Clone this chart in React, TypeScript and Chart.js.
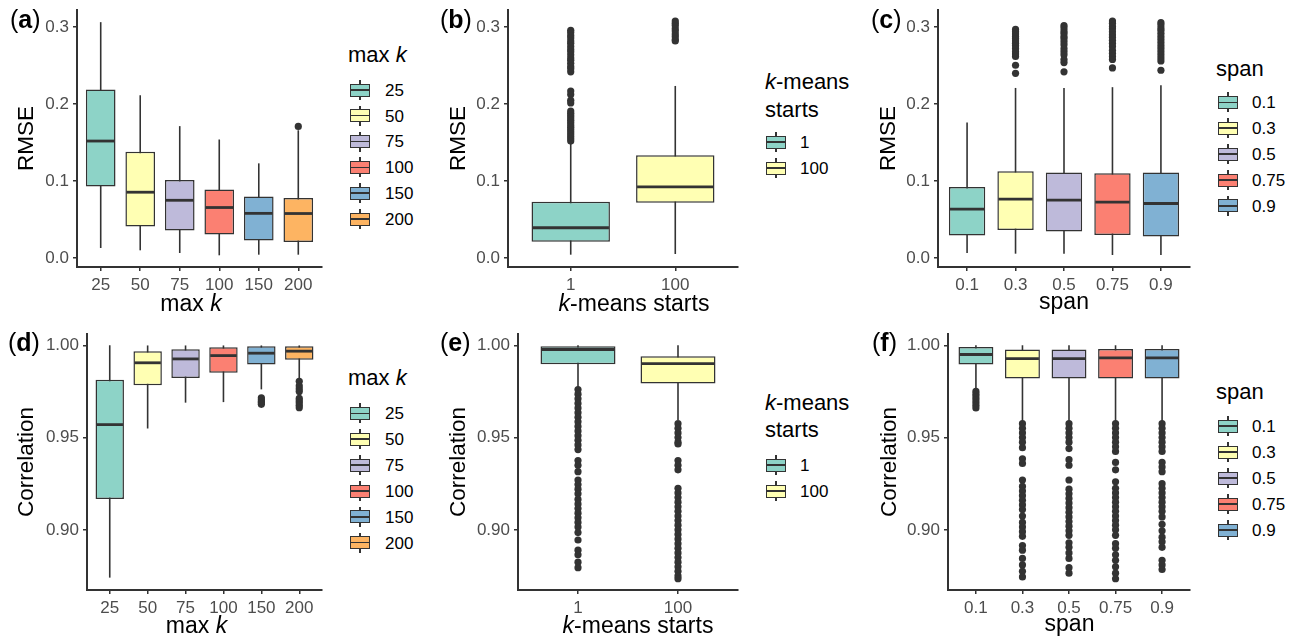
import React, { useEffect, useRef } from 'react';
import { Chart, registerables } from 'chart.js';

Chart.register(...registerables);

const FONT = '"Liberation Sans", Arial, Helvetica, sans-serif';
const INK = '#333333';
const TICK_GREY = '#4D4D4D';
const SET3 = ['#8DD3C7', '#FFFFB3', '#BEBADA', '#FB8072', '#80B1D3', '#FDB462'];

// ---------- categories ----------
const MAXK = ['25', '50', '75', '100', '150', '200'];
const STARTS = ['1', '100'];
const SPAN = ['0.1', '0.3', '0.5', '0.75', '0.9'];

// ---------- y ticks ----------
const RMSE_TICKS = [0, 0.1, 0.2, 0.3];
const RMSE_TICK_LABELS = ['0.0', '0.1', '0.2', '0.3'];
const COR_TICKS = [0.9, 0.95, 1.0];
const COR_TICK_LABELS = ['0.90', '0.95', '1.00'];

// ---------- (a) RMSE by max k ----------
const A_LOW = [0.013, 0.010, 0.0065, 0.0035, 0.0043, 0.0043];
const A_Q1 = [0.0928, 0.041, 0.0358, 0.0306, 0.0229, 0.0207];
const A_MED = [0.152, 0.0855, 0.075, 0.0656, 0.058, 0.0578];
const A_Q3 = [0.219, 0.138, 0.1014, 0.089, 0.080, 0.078];
const A_HIGH = [0.3065, 0.2115, 0.1714, 0.154, 0.123, 0.166];
const A_OUT = [[], [], [], [], [], [0.171]];

// ---------- (b) RMSE by k-means starts ----------
const B_LOW = [0.0043, 0.0052];
const B_Q1 = [0.0211, 0.0717];
const B_MED = [0.0393, 0.0924];
const B_Q3 = [0.073, 0.1334];
const B_HIGH = [0.149, 0.2236];
const B_OUT = [
  [0.296, 0.293, 0.289, 0.286, 0.282, 0.279, 0.275, 0.271, 0.268, 0.264, 0.260, 0.257, 0.253, 0.249, 0.246, 0.242,
    0.217, 0.2125, 0.205, 0.2015, 0.191, 0.188, 0.185, 0.182, 0.179, 0.176, 0.173, 0.170, 0.167, 0.164, 0.161, 0.158, 0.155, 0.152],
  [0.308, 0.305, 0.302, 0.298, 0.295, 0.291, 0.288, 0.284, 0.282],
];

// ---------- (c) RMSE by span ----------
const C_LOW = [0.0065, 0.0056, 0.0056, 0.0039, 0.0039];
const C_Q1 = [0.0294, 0.0363, 0.0345, 0.0298, 0.028];
const C_MED = [0.0635, 0.0764, 0.0751, 0.0725, 0.0708];
const C_Q3 = [0.0924, 0.1127, 0.111, 0.110, 0.111];
const C_HIGH = [0.176, 0.221, 0.221, 0.222, 0.2245];
const C_OUT = [
  [],
  [0.297, 0.294, 0.291, 0.288, 0.285, 0.282, 0.279, 0.276, 0.272, 0.268, 0.265, 0.262, 0.2505, 0.240],
  [0.302, 0.299, 0.295, 0.292, 0.288, 0.285, 0.281, 0.277, 0.272, 0.268, 0.264, 0.258, 0.254, 0.242],
  [0.308, 0.305, 0.301, 0.298, 0.294, 0.290, 0.287, 0.283, 0.279, 0.275, 0.270, 0.266, 0.262, 0.258, 0.247],
  [0.306, 0.303, 0.299, 0.296, 0.292, 0.288, 0.284, 0.280, 0.276, 0.272, 0.268, 0.264, 0.260, 0.256, 0.244],
];

// ---------- (d) Correlation by max k ----------
const D_LOW = [0.8741, 0.9549, 0.9689, 0.9692, 0.9761, 0.982];
const D_Q1 = [0.9167, 0.9784, 0.9822, 0.9851, 0.9896, 0.9921];
const D_MED = [0.957, 0.9905, 0.9926, 0.9944, 0.9957, 0.9968];
const D_Q3 = [0.9813, 0.9968, 0.9978, 0.9989, 0.9995, 0.9995];
const D_HIGH = [1.0, 0.9999, 0.9999, 0.9999, 0.9999, 0.9999];
const D_OUT = [[], [], [], [],
  [0.9715, 0.9705, 0.9695, 0.9688, 0.968],
  [0.9805, 0.978, 0.9765, 0.975, 0.9712, 0.970, 0.9688, 0.9675, 0.9662]];

// ---------- (e) Correlation by k-means starts ----------
const E_LOW = [0.977, 0.9595];
const E_Q1 = [0.9897, 0.9793];
const E_MED = [0.9977, 0.990];
const E_Q3 = [0.9995, 0.9941];
const E_HIGH = [1.0, 1.0];
const E_OUT = [
  [0.976, 0.9735, 0.971, 0.9685, 0.966, 0.9635, 0.961, 0.9585, 0.956, 0.9535, 0.951, 0.9485, 0.946, 0.9435,
    0.9375, 0.935, 0.9315, 0.927, 0.9245, 0.922, 0.9195, 0.9165, 0.914, 0.9115, 0.909, 0.9065, 0.904, 0.9015,
    0.8985, 0.8945, 0.889, 0.8865, 0.8825, 0.8795],
  [0.9575, 0.955, 0.9525, 0.950, 0.9475, 0.9465, 0.9375, 0.935, 0.9325, 0.9225, 0.920, 0.9175, 0.915, 0.9125,
    0.910, 0.9075, 0.905, 0.9025, 0.900, 0.8975, 0.895, 0.8925, 0.890, 0.8875, 0.885, 0.8825, 0.880, 0.8775,
    0.875, 0.8735],
];

// ---------- (f) Correlation by span ----------
const F_LOW = [0.9761, 0.959, 0.959, 0.959, 0.959];
const F_Q1 = [0.9896, 0.982, 0.982, 0.982, 0.982];
const F_MED = [0.995, 0.9928, 0.9928, 0.9932, 0.9932];
const F_Q3 = [0.9991, 0.9977, 0.9977, 0.998, 0.998];
const F_HIGH = [1.0, 1.0, 1.0, 1.0, 1.0];
const F_OUT = [
  [0.975, 0.9735, 0.972, 0.9705, 0.969, 0.9675, 0.966],
  [0.9575, 0.955, 0.9525, 0.950, 0.9475, 0.9445, 0.9385, 0.936, 0.927, 0.9235, 0.921, 0.9185, 0.916, 0.9135,
    0.911, 0.9075, 0.904, 0.9015, 0.899, 0.8965, 0.8915, 0.889, 0.8845, 0.881, 0.8775, 0.8745],
  [0.9575, 0.955, 0.9525, 0.950, 0.9475, 0.944, 0.938, 0.935, 0.927, 0.922, 0.9195, 0.917, 0.9145, 0.912,
    0.9095, 0.907, 0.9045, 0.902, 0.8995, 0.897, 0.893, 0.8905, 0.8875, 0.8845, 0.8795, 0.8765],
  [0.9575, 0.955, 0.9525, 0.950, 0.9475, 0.945, 0.9425, 0.9365, 0.9325, 0.926, 0.9225, 0.920, 0.9175, 0.915,
    0.9125, 0.910, 0.9075, 0.905, 0.9025, 0.900, 0.897, 0.8925, 0.890, 0.8865, 0.8835, 0.880, 0.8765, 0.8735],
  [0.9575, 0.955, 0.9525, 0.950, 0.9475, 0.945, 0.9425, 0.9365, 0.934, 0.9315, 0.925, 0.9225, 0.920, 0.9175,
    0.915, 0.9125, 0.910, 0.907, 0.903, 0.8995, 0.896, 0.8935, 0.8905, 0.8835, 0.881, 0.8785],
];

type BoxSet = {
  cats: string[]; low: number[]; q1: number[]; med: number[]; q3: number[]; high: number[]; out: number[][];
};

type PanelProps = {
  box: BoxSet; left: number; top: number; width: number; height: number; padTop: number;
  yW: number; titlePad: number; yTitle: string; yMin: number; yMax: number;
  ticks: number[]; tickLabels: string[];
};

function BoxPlot(p: PanelProps) {
  const ref = useRef<HTMLCanvasElement>(null);
  useEffect(() => {
    const { box } = p;
    const n = box.cats.length;
    const whiskers = box.cats.map((_, i) => ({ x: i, y: [box.low[i], box.high[i]] }));
    const boxes = box.cats.map((_, i) => ({ x: i, y: [box.q1[i], box.q3[i]] }));
    const outliers = box.out.flatMap((vals, i) => vals.map((v) => ({ x: i, y: v })));

    const medianPlugin = {
      id: 'medians',
      afterDatasetsDraw(chart: any) {
        const meta = chart.getDatasetMeta(1);
        const ys = chart.scales.y;
        const ctx = chart.ctx;
        ctx.save();
        ctx.strokeStyle = INK;
        ctx.lineWidth = 2.8;
        meta.data.forEach((el: any, i: number) => {
          const { x, width } = el.getProps(['x', 'width'], true);
          const py = ys.getPixelForValue(box.med[i]);
          ctx.beginPath();
          ctx.moveTo(x - width / 2 + 1, py);
          ctx.lineTo(x + width / 2 - 1, py);
          ctx.stroke();
        });
        ctx.restore();
      },
    };

    const tickFont = { family: FONT, size: 17 };
    const chart = new Chart(ref.current as HTMLCanvasElement, {
      type: 'bar',
      data: {
        datasets: [
          {
            type: 'bar', data: whiskers as any, backgroundColor: INK, borderWidth: 0,
            barThickness: 1.6, grouped: false, order: 3, inflateAmount: 0,
          } as any,
          {
            type: 'bar', data: boxes as any, backgroundColor: SET3.slice(0, n), borderColor: INK,
            borderWidth: 1.5, borderSkipped: false, grouped: false, categoryPercentage: 1,
            barPercentage: 0.75, order: 2, inflateAmount: 0,
          } as any,
          {
            type: 'scatter', data: outliers as any, pointRadius: 3.6, pointBackgroundColor: INK,
            pointBorderWidth: 0, backgroundColor: INK, borderWidth: 0, order: 1,
          } as any,
        ],
      },
      options: {
        animation: false,
        responsive: false,
        maintainAspectRatio: false,
        events: [],
        layout: { padding: { top: p.padTop, right: 8, left: 0, bottom: 0 } },
        plugins: { legend: { display: false }, tooltip: { enabled: false } },
        scales: {
          x: {
            type: 'linear',
            min: -0.6,
            max: n - 1 + 0.6,
            offset: false,
            bounds: 'data',
            afterBuildTicks: (s: any) => { s.ticks = box.cats.map((_, i) => ({ value: i })); },
            afterFit: (s: any) => { s.height = 30; s.paddingLeft = 0; s.paddingRight = 0; },
            ticks: {
              callback: (_v: any, i: number) => box.cats[i],
              font: tickFont, color: TICK_GREY, padding: 4, autoSkip: false, maxRotation: 0,
            },
            grid: { display: true, offset: false, drawOnChartArea: false, drawTicks: true, tickLength: 4, color: INK, lineWidth: 1.5 },
            border: { display: true, color: INK, width: 2 },
          } as any,
          y: {
            type: 'linear',
            min: p.yMin,
            max: p.yMax,
            beginAtZero: false,
            bounds: 'data',
            afterBuildTicks: (s: any) => { s.ticks = p.ticks.map((v) => ({ value: v })); },
            afterFit: (s: any) => { s.width = p.yW; s.paddingTop = 0; s.paddingBottom = 0; },
            ticks: {
              callback: (_v: any, i: number) => p.tickLabels[i],
              font: tickFont, color: TICK_GREY, padding: 4,
            },
            grid: { display: true, drawOnChartArea: false, drawTicks: true, tickLength: 4, color: INK, lineWidth: 1.5 },
            border: { display: true, color: INK, width: 2 },
            title: {
              display: true, text: p.yTitle, color: '#000',
              font: { family: FONT, size: 22.5 }, padding: { top: p.titlePad, bottom: 0 },
            },
          } as any,
        },
      },
      plugins: [medianPlugin],
    });
    return () => chart.destroy();
  }, []);
  return (
    <canvas
      ref={ref}
      width={p.width}
      height={p.height}
      style={{ position: 'absolute', left: p.left, top: p.top, width: p.width, height: p.height }}
    />
  );
}

function Txt({ x, baseline, size, children, center, color = '#000' }:
  { x: number; baseline: number; size: number; children: any; center?: boolean; color?: string }) {
  return (
    <div
      style={{
        position: 'absolute', left: x, top: baseline - 0.8465 * size, fontSize: size,
        lineHeight: `${size}px`, fontFamily: FONT, color, whiteSpace: 'nowrap',
        transform: center ? 'translateX(-50%)' : undefined,
      }}
    >
      {children}
    </div>
  );
}

function Key({ x, cy, color }: { x: number; cy: number; color: string }) {
  return (
    <div style={{ position: 'absolute', left: x, top: cy - 10, width: 20, height: 20 }}>
      <div style={{ position: 'absolute', left: 9.4, top: 0, width: 1.2, height: 20, background: INK }} />
      <div style={{
        position: 'absolute', left: 0, top: 3.5, width: 20, height: 13, boxSizing: 'border-box',
        border: `1.5px solid ${INK}`, background: color,
      }} />
      <div style={{ position: 'absolute', left: 1, top: 9.3, width: 18, height: 1.4, background: INK }} />
    </div>
  );
}

function Legend({ cats, keyX, labelX, firstCy, step }:
  { cats: string[]; keyX: number; labelX: number; firstCy: number; step: number }) {
  return (
    <>
      {cats.map((c, i) => (
        <React.Fragment key={c}>
          <Key x={keyX} cy={firstCy + i * step} color={SET3[i]} />
          <Txt x={labelX} baseline={firstCy + i * step + 6.1} size={17}>{c}</Txt>
        </React.Fragment>
      ))}
    </>
  );
}

const BOX_A: BoxSet = { cats: MAXK, low: A_LOW, q1: A_Q1, med: A_MED, q3: A_Q3, high: A_HIGH, out: A_OUT };
const BOX_B: BoxSet = { cats: STARTS, low: B_LOW, q1: B_Q1, med: B_MED, q3: B_Q3, high: B_HIGH, out: B_OUT };
const BOX_C: BoxSet = { cats: SPAN, low: C_LOW, q1: C_Q1, med: C_MED, q3: C_Q3, high: C_HIGH, out: C_OUT };
const BOX_D: BoxSet = { cats: MAXK, low: D_LOW, q1: D_Q1, med: D_MED, q3: D_Q3, high: D_HIGH, out: D_OUT };
const BOX_E: BoxSet = { cats: STARTS, low: E_LOW, q1: E_Q1, med: E_MED, q3: E_Q3, high: E_HIGH, out: E_OUT };
const BOX_F: BoxSet = { cats: SPAN, low: F_LOW, q1: F_Q1, med: F_MED, q3: F_Q3, high: F_HIGH, out: F_OUT };

const TOP_MIN = -0.0117, TOP_MAX = 0.3223;
const BOT_MIN = 0.8674, BOT_MAX = 1.0061;

export default function App() {
  return (
    <div style={{ position: 'absolute', left: 0, top: 0, width: 1297, height: 642, background: '#fff', overflow: 'hidden' }}>
      <BoxPlot box={BOX_A} left={0} top={0} width={330} height={297} padTop={10} yW={77} titlePad={13.2}
        yTitle="RMSE" yMin={TOP_MIN} yMax={TOP_MAX} ticks={RMSE_TICKS} tickLabels={RMSE_TICK_LABELS} />
      <BoxPlot box={BOX_B} left={432} top={0} width={314} height={297} padTop={10} yW={76} titlePad={13}
        yTitle="RMSE" yMin={TOP_MIN} yMax={TOP_MAX} ticks={RMSE_TICKS} tickLabels={RMSE_TICK_LABELS} />
      <BoxPlot box={BOX_C} left={864} top={0} width={334} height={297} padTop={10} yW={74} titlePad={11.7}
        yTitle="RMSE" yMin={TOP_MIN} yMax={TOP_MAX} ticks={RMSE_TICKS} tickLabels={RMSE_TICK_LABELS} />
      <BoxPlot box={BOX_D} left={0} top={321} width={330} height={299} padTop={13} yW={87} titlePad={13}
        yTitle="Correlation" yMin={BOT_MIN} yMax={BOT_MAX} ticks={COR_TICKS} tickLabels={COR_TICK_LABELS} />
      <BoxPlot box={BOX_E} left={432} top={321} width={314} height={299} padTop={13} yW={86} titlePad={13}
        yTitle="Correlation" yMin={BOT_MIN} yMax={BOT_MAX} ticks={COR_TICKS} tickLabels={COR_TICK_LABELS} />
      <BoxPlot box={BOX_F} left={864} top={321} width={334} height={299} padTop={13} yW={84} titlePad={12}
        yTitle="Correlation" yMin={BOT_MIN} yMax={BOT_MAX} ticks={COR_TICKS} tickLabels={COR_TICK_LABELS} />

      {/* panel labels */}
      <Txt x={10} baseline={28} size={25}>(<b>a</b>)</Txt>
      <Txt x={440} baseline={28} size={25}>(<b>b</b>)</Txt>
      <Txt x={871} baseline={28} size={25}>(<b>c</b>)</Txt>
      <Txt x={8} baseline={351} size={25}>(<b>d</b>)</Txt>
      <Txt x={440} baseline={351} size={25}>(<b>e</b>)</Txt>
      <Txt x={872} baseline={351} size={25}>(<b>f</b>)</Txt>

      {/* x-axis titles */}
      <Txt x={191} baseline={311} size={23} center>max <i>k</i></Txt>
      <Txt x={634} baseline={311} size={23} center><i>k</i>-means starts</Txt>
      <Txt x={1064} baseline={309.5} size={23} center>span</Txt>
      <Txt x={196.5} baseline={633} size={23} center>max <i>k</i></Txt>
      <Txt x={638} baseline={633} size={23} center><i>k</i>-means starts</Txt>
      <Txt x={1069.5} baseline={631.5} size={23} center>span</Txt>

      {/* legends */}
      <Txt x={348} baseline={63} size={22}>max <i>k</i></Txt>
      <Legend cats={MAXK} keyX={350} labelX={385} firstCy={90} step={25.8} />
      <Txt x={765} baseline={90} size={22}><i>k</i>-means</Txt>
      <Txt x={765} baseline={118} size={22}>starts</Txt>
      <Legend cats={STARTS} keyX={766} labelX={800} firstCy={142} step={26} />
      <Txt x={1216} baseline={77} size={22}>span</Txt>
      <Legend cats={SPAN} keyX={1218} labelX={1252} firstCy={102.3} step={25.9} />

      <Txt x={348} baseline={386} size={22}>max <i>k</i></Txt>
      <Legend cats={MAXK} keyX={350} labelX={385} firstCy={413.3} step={25.9} />
      <Txt x={765} baseline={410.5} size={22}><i>k</i>-means</Txt>
      <Txt x={765} baseline={437.7} size={22}>starts</Txt>
      <Legend cats={STARTS} keyX={766} labelX={800} firstCy={465} step={26} />
      <Txt x={1216} baseline={399.5} size={22}>span</Txt>
      <Legend cats={SPAN} keyX={1218} labelX={1252} firstCy={426} step={26} />
    </div>
  );
}
